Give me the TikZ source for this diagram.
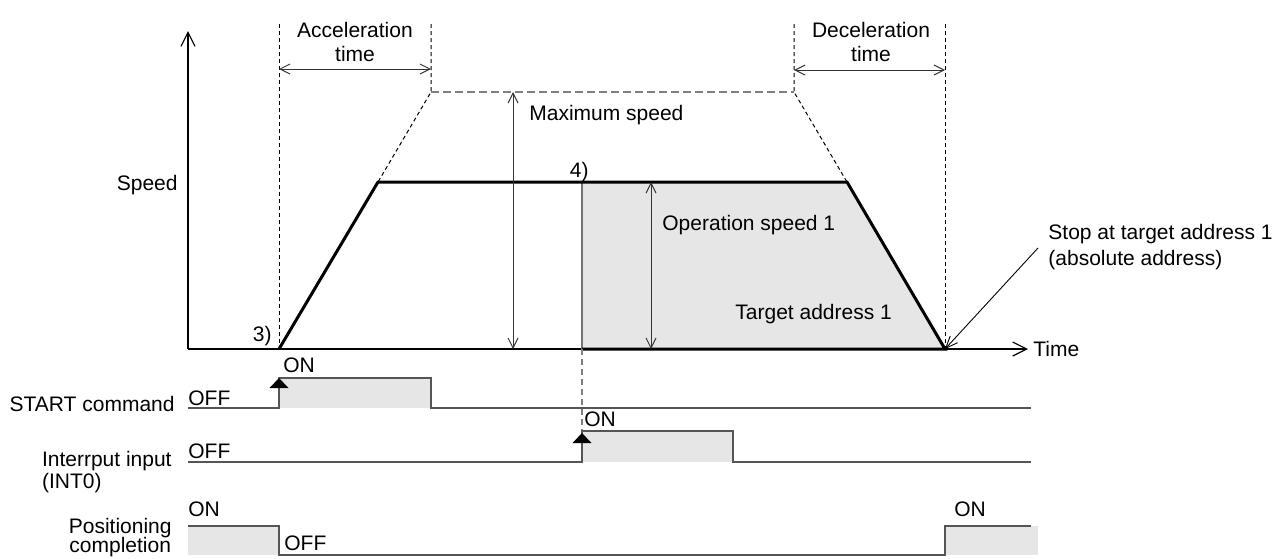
\documentclass[tikz,border=0pt]{standalone}
\usepackage{fontspec}
\setmainfont{Liberation Sans}
\usepackage{tikz}
\usetikzlibrary{positioning}
\usetikzlibrary{arrows.meta}

\definecolor{areagrigia}{HTML}{E6E6E6}
\definecolor{seggrigio}{HTML}{555555}

\begin{document}
\begin{tikzpicture}[
    x=0.5pt, y=-0.5pt,
    font=\fontsize{10.5}{12.5}\selectfont,
    lbl/.style={inner sep=0pt},
    asse/.style={line width=0.6pt, -{Straight Barb[length=7pt,width=7pt]}},
    quota/.style={line width=0.5pt, draw=black!80,
        {Straight Barb[length=5pt,width=5pt]}-{Straight Barb[length=5pt,width=5pt]}},
    guida/.style={line width=0.5pt, dash pattern=on 2pt off 1.5pt},
    guidagrigia/.style={line width=0.6pt, draw=black!50, dash pattern=on 4pt off 2pt},
    profilo/.style={line width=1.5pt, line join=miter},
    segnale/.style={line width=0.6pt, draw=seggrigio}]
    \useasboundingbox (0,0) rectangle (1275,558);

    % Punti del profilo di velocita'
    \coordinate (o) at (188,349);
    \coordinate (ytop) at (188,31);
    \coordinate (xend) at (1028,349);
    \coordinate (s0) at (279,349);
    \coordinate (s1) at (378,182);
    \coordinate (s2) at (847,182);
    \coordinate (s3) at (945,349);
    \coordinate (i0) at (582,182);
    \coordinate (i1) at (582,349);

    % Punti delle linee guida
    \coordinate (a0) at (279,24);
    \coordinate (a1) at (431,24);
    \coordinate (a2) at (431,92);
    \coordinate (d0) at (794,24);
    \coordinate (d1) at (794,92);
    \coordinate (d2) at (945,24);

    % Area grigia dopo l'interrupt
    \fill[areagrigia] (i0) -- (s2) -- (s3) -- (i1) -- cycle;

    % Assi
    \draw[asse] (o) -- (ytop);
    \draw[asse] (o) -- (xend);

    % Linee tratteggiate
    \draw[guida] (a0) -- (s0);
    \draw[guida] (a1) -- (a2) -- (s1);
    \draw[guida] (d0) -- (d1) -- (s2);
    \draw[guida] (d2) -- (s3);
    \draw[guidagrigia] (a2) -- (d1);

    % Profilo
    \draw[black!55, line width=0.6pt] (i0) -- (i1);
    \draw[profilo] (s0) -- (s1) -- (s2) -- (s3) -- (i1);

    % Quote
    \draw[quota] (279,69) -- (431,69);
    \draw[quota] (794,70) -- (945,70);
    \draw[quota] (513,92) -- (513,349);
    \draw[quota] (651,182) -- (651,349);

    % Testi del grafico
    \node[lbl, anchor=base] (acctesto) at (355,37) {Acceleration};
    \node[lbl, anchor=base] (acctempo) at ([yshift=-12.3pt]acctesto.base) {time};
    \node[lbl, anchor=base] (dectesto) at (871,37) {Deceleration};
    \node[lbl, anchor=base] (dectempo) at ([yshift=-12.3pt]dectesto.base) {time};
    \node[lbl, anchor=base west] (maxvel) at (529,120.5) {Maximum speed};
    \node[lbl, anchor=base east] (velocita) at (178,190) {Speed};
    \node[lbl, anchor=base east] (p3) at (272,341.5) {3)};
    \node[lbl, anchor=base east] (p4) at (589,177.5) {4)};
    \node[lbl, anchor=base west] (opvel) at (662,230) {Operation speed 1};
    \node[lbl, anchor=base west] (target) at (735,319) {Target address 1};
    \node[lbl, anchor=base west] (tempo) at (1033,356.5) {Time};
    \node[lbl, anchor=base west] (stoptesto) at (1048,239) {Stop at target address 1};
    \node[lbl, anchor=base west] (assoluto) at ([yshift=-13pt]stoptesto.base west) {(absolute address)};
    \coordinate (freccia) at (1038,248);
    \draw[line width=0.45pt, -{Straight Barb[length=6pt,width=5pt]}] (freccia) -- (s3);

    % Segnale START
    \coordinate (st0) at (188,408);
    \coordinate (st1) at (279,408);
    \coordinate (st2) at (279,378);
    \coordinate (st3) at (431,378);
    \coordinate (st4) at (431,408);
    \coordinate (st5) at (1031,408);
    \fill[areagrigia] (st1) rectangle (st3);
    \draw[segnale] (st0) -- (st1) -- (st2) -- (st3) -- (st4) -- (st5);
    \fill (st2) -- ++(-9.5,10) -- ++(19,0) -- cycle;
    \node[lbl, anchor=base east] (startcmd) at (175,411.5) {START command};
    \node[lbl, anchor=base west] (stoff) at (188,405) {OFF};
    \node[lbl, anchor=base west] (ston) at (283,372) {ON};

    % Segnale interrupt
    \coordinate (in0) at (188,462);
    \coordinate (in1) at (582,462);
    \coordinate (in2) at (582,431);
    \coordinate (in3) at (733,431);
    \coordinate (in4) at (733,462);
    \coordinate (in5) at (1031,462);
    \fill[areagrigia] (in1) rectangle (in3);
    \draw[guidagrigia, dash pattern=on 3pt off 2pt] (i1) -- (in2);
    \draw[segnale] (in0) -- (in1) -- (in2) -- (in3) -- (in4) -- (in5);
    \fill ([yshift=-1pt]in2) -- ++(-9.5,10) -- ++(19,0) -- cycle;
    \node[lbl, anchor=base east] (intin) at (172,466.5) {Interrput input};
    \node[lbl, anchor=base west] (int0) at ([yshift=-11pt]intin.base west) {(INT0)};
    \node[lbl, anchor=base west] (inoff) at (188,458) {OFF};
    \node[lbl, anchor=base west] (inon) at (584,426) {ON};

    % Segnale di posizionamento completato
    \coordinate (pc0) at (188,526);
    \coordinate (pc1) at (279,526);
    \coordinate (pc2) at (279,555);
    \coordinate (pc3) at (945,555);
    \coordinate (pc4) at (945,526);
    \coordinate (pc5) at (1031,526);
    \fill[areagrigia] (pc0) rectangle (pc2);
    \fill[areagrigia] (pc4) rectangle (1038,555);
    \draw[segnale] (pc0) -- (pc1) -- (pc2) -- (pc3) -- (pc4) -- (pc5);
    \node[lbl, anchor=base east] (posiz) at (172,533.5) {Positioning};
    \node[lbl, anchor=base] (compl) at ([yshift=-9.5pt]posiz.base) {completion};
    \node[lbl, anchor=base west] (pcon) at (188,516.5) {ON};
    \node[lbl, anchor=base west] (pcoff) at (284,550) {OFF};
    \node[lbl, anchor=base west] (pcon2) at (954,516.5) {ON};
\end{tikzpicture}
\end{document}
